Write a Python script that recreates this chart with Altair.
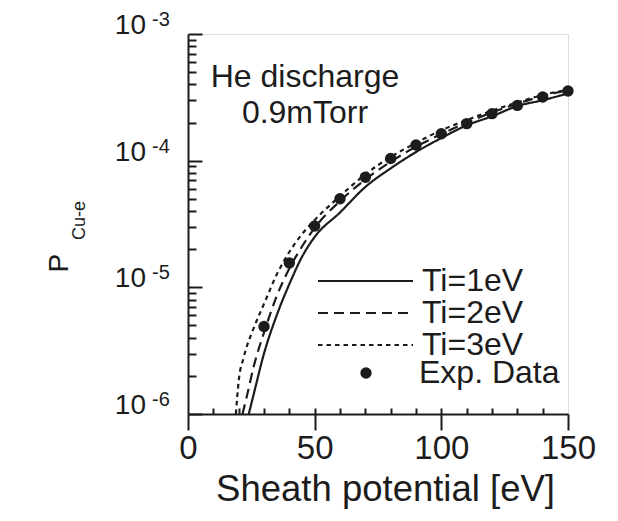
import altair as alt
import pandas as pd

FONT = "Liberation Sans"
INK = "#1c1c1c"

# ---- data ----
series_names = ["Ti=1eV", "Ti=2eV", "Ti=3eV"]

ti1_v = [24, 26, 30, 35, 40, 45, 50, 60, 70, 80, 90, 100, 110, 120, 130, 140, 150]
ti1_p = [1.0e-6, 1.45e-6, 3.0e-6, 6.0e-6, 1.06e-5, 1.74e-5, 2.5e-5, 3.9e-5, 6.2e-5,
         8.7e-5, 1.17e-4, 1.51e-4, 1.9e-4, 2.24e-4, 2.7e-4, 3.0e-4, 3.4e-4]

ti2_v = [21.5, 23, 26, 30, 35, 40, 45, 50, 60, 70, 80, 90, 100, 110, 120, 130, 140, 150]
ti2_p = [1.0e-6, 1.32e-6, 2.4e-6, 4.4e-6, 8.5e-6, 1.41e-5, 2.1e-5, 2.95e-5, 4.8e-5,
         7.1e-5, 9.8e-5, 1.29e-4, 1.62e-4, 2.0e-4, 2.4e-4, 2.82e-4, 3.24e-4, 3.6e-4]

ti3_v = [18.9, 20, 22, 26, 30, 35, 40, 45, 50, 60, 70, 80, 90, 100, 110, 120, 130, 140, 150]
ti3_p = [1.0e-6, 1.82e-6, 2.8e-6, 4.8e-6, 7.4e-6, 1.26e-5, 1.9e-5, 2.63e-5, 3.4e-5,
         5.25e-5, 7.8e-5, 1.07e-4, 1.38e-4, 1.74e-4, 2.09e-4, 2.48e-4, 2.88e-4, 3.3e-4, 3.63e-4]

exp_label = "Exp. Data"
exp_v = [30, 40, 50, 60, 70, 80, 90, 100, 110, 120, 130, 140, 150]
exp_p = [4.9e-6, 1.56e-5, 3.05e-5, 5.0e-5, 7.4e-5, 1.04e-4, 1.33e-4, 1.63e-4,
         1.96e-4, 2.35e-4, 2.73e-4, 3.18e-4, 3.55e-4]

x_major_ticks = [0, 50, 100, 150]
x_minor_ticks = [10, 20, 30, 40, 50, 60, 70, 80, 90, 100, 110, 120, 130, 140]
y_decades = [1e-3, 1e-4, 1e-5, 1e-6]
y_decade_base = ["10", "10", "10", "10"]
y_decade_exp = ["-3", "-4", "-5", "-6"]
y_ticks = [m * 10.0 ** k for k in (-6, -5, -4) for m in range(1, 10)] + [1e-3]

annotation = ["He discharge", "0.9mTorr"]
x_title = "Sheath potential [eV]"
y_title = "P"
y_title_sub = "Cu-e"

# ---- tables ----
lines_df = pd.concat([
    pd.DataFrame({"V": ti1_v, "P": ti1_p, "series": series_names[0]}),
    pd.DataFrame({"V": ti2_v, "P": ti2_p, "series": series_names[1]}),
    pd.DataFrame({"V": ti3_v, "P": ti3_p, "series": series_names[2]}),
], ignore_index=True)
exp_df = pd.DataFrame({"V": exp_v, "P": exp_p, "kind": exp_label})
dec_df = pd.DataFrame({"P": y_decades, "base": y_decade_base, "exp": y_decade_exp})
one_df = pd.DataFrame({"k": [0]})

xscale = alt.Scale(domain=[0, 150], nice=False, zero=False)
yscale = alt.Scale(type="log", domain=[1e-6, 1e-3], nice=False)

x_axis_main = alt.Axis(
    orient="bottom", values=x_major_ticks, tickCount=20, tickSize=16, tickWidth=2,
    tickColor=INK, domainColor=INK, domainWidth=2, labelFontSize=33, labelPadding=2,
    labelFlush=False, labelColor=INK, labelFont=FONT, grid=False, title=x_title,
    titleFont=FONT, titleFontSize=36.5, titleFontWeight="normal", titleColor=INK,
    titleX=197, titleY=86, titleBaseline="alphabetic", titleAlign="center")
x_axis_inner = alt.Axis(
    orient="top", offset=-380, values=x_minor_ticks, tickCount=40, tickSize=6,
    tickWidth=2, tickColor=INK, labels=False, domain=False, grid=False, title=None)
y_axis_main = alt.Axis(
    orient="left", ticks=False, labels=False, domainColor=INK, domainWidth=2, grid=False,
    title=y_title, titleFont=FONT, titleFontSize=28, titleFontWeight="normal",
    titleColor=INK, titleAngle=270, titleAlign="left", titleBaseline="alphabetic",
    titleX=-121, titleY=238)
y_axis_inner = alt.Axis(
    orient="right", offset=-380, values=y_ticks,
    tickSize={"condition": {"test": "abs(log(datum.value)/LN10 - round(log(datum.value)/LN10)) < 0.01",
                            "value": 14}, "value": 8},
    tickWidth=2, tickColor=INK, labels=False, domain=False, grid=False, title=None)

lines = alt.Chart(lines_df).mark_line(
    color=INK, strokeWidth=2.2, clip=True, interpolate="monotone"
).encode(
    x=alt.X("V:Q", scale=xscale, axis=x_axis_main),
    y=alt.Y("P:Q", scale=yscale, axis=y_axis_main),
    strokeDash=alt.StrokeDash(
        "series:N",
        scale=alt.Scale(domain=series_names, range=[[1, 0], [10, 6], [4.5, 4]]),
        legend=alt.Legend(orient="none", legendX=129, legendY=231, title=None,
                          symbolType="stroke", symbolSize=9025, symbolStrokeWidth=2,
                          symbolStrokeColor=INK, labelFontSize=32, labelFont=FONT,
                          labelColor=INK, labelOffset=8, rowPadding=0, padding=0,
                          clipHeight=32, labelLimit=300)),
)

points = alt.Chart(exp_df).mark_point(
    filled=True, size=130, color=INK, opacity=1
).encode(
    x=alt.X("V:Q", scale=xscale, axis=x_axis_inner),
    y=alt.Y("P:Q", scale=yscale, axis=y_axis_inner),
    shape=alt.Shape("kind:N", scale=alt.Scale(range=["circle"]),
                    legend=alt.Legend(orient="none", legendX=162, legendY=323, title=None,
                                      symbolType="circle", symbolSize=130,
                                      symbolFillColor=INK, symbolStrokeWidth=0,
                                      labelFontSize=32, labelFont=FONT, labelColor=INK,
                                      labelOffset=37, padding=0, clipHeight=32,
                                      labelLimit=300)),
)

ylab_base = alt.Chart(dec_df).mark_text(
    align="right", baseline="alphabetic", fontSize=28, font=FONT, color=INK
).encode(
    y=alt.Y("P:Q", scale=yscale, axis=None),
    x=alt.value(-42),
    text="base:N",
)
ylab_exp = alt.Chart(dec_df).mark_text(
    align="left", baseline="alphabetic", fontSize=20, font=FONT, color=INK, dy=-8
).encode(
    y=alt.Y("P:Q", scale=yscale, axis=None),
    x=alt.value(-36),
    text="exp:N",
)

annot = alt.Chart(one_df).mark_text(
    text=annotation, align="center", baseline="alphabetic", fontSize=32, font=FONT,
    color=INK, lineHeight=36
).encode(x=alt.value(117), y=alt.value(53))

ysub = alt.Chart(one_df).mark_text(
    text=y_title_sub, angle=270, align="left", baseline="alphabetic", fontSize=18,
    font=FONT, color=INK
).encode(x=alt.value(-103), y=alt.value(206))

chart = alt.layer(lines, points, ylab_base, ylab_exp, annot, ysub).properties(
    width=380, height=380,
    padding={"left": 180, "top": 26, "right": 40, "bottom": 95},
    autosize=alt.AutoSizeParams(type="none"),
    background="white",
).configure_view(stroke=INK, strokeWidth=2).configure(font=FONT)

chart.save("out.html", embed_options={"renderer": "svg", "actions": False})
